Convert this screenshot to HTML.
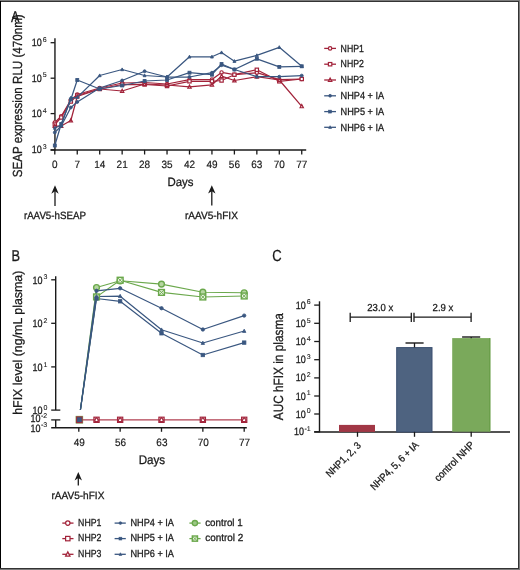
<!DOCTYPE html>
<html><head><meta charset="utf-8"><style>
html,body{margin:0;padding:0;background:#fff;}
#f{position:relative;width:520px;height:570px;overflow:hidden;background:#fff;will-change:transform;}
svg{position:absolute;left:0;top:0;}
text{font-family:"Liberation Sans", sans-serif;fill:#1a1a1a;text-rendering:geometricPrecision;stroke:#1a1a1a;stroke-width:0.28px;}
</style></head><body><div id="f">
<svg width="520" height="570" viewBox="0 0 520 570">
<rect x="0" y="0" width="520" height="570" fill="#fff"/>
<text x="11.00" y="22.30" font-size="15.5" textLength="8.40" lengthAdjust="spacingAndGlyphs" >A</text>
<text x="21.60" y="177.30" font-size="13.2" textLength="163.00" lengthAdjust="spacingAndGlyphs" transform="rotate(-90 21.60 177.30)" >SEAP expression RLU (470nm)</text>
<line x1="54.95" y1="38.30" x2="54.95" y2="150.40" stroke="#1a1a1a" stroke-width="1.4" />
<line x1="50.60" y1="149.90" x2="306.20" y2="149.90" stroke="#1a1a1a" stroke-width="1.5" />
<line x1="50.60" y1="42.70" x2="54.80" y2="42.70" stroke="#1a1a1a" stroke-width="1.3" />
<text x="31.81" y="46.20" font-size="10.6" textLength="10.0" lengthAdjust="spacingAndGlyphs">10</text>
<text x="42.81" y="41.90" font-size="7.0" style="stroke-width:0.1px">6</text>
<line x1="50.60" y1="78.20" x2="54.80" y2="78.20" stroke="#1a1a1a" stroke-width="1.3" />
<text x="31.81" y="81.70" font-size="10.6" textLength="10.0" lengthAdjust="spacingAndGlyphs">10</text>
<text x="42.81" y="77.40" font-size="7.0" style="stroke-width:0.1px">5</text>
<line x1="50.60" y1="113.60" x2="54.80" y2="113.60" stroke="#1a1a1a" stroke-width="1.3" />
<text x="31.81" y="117.10" font-size="10.6" textLength="10.0" lengthAdjust="spacingAndGlyphs">10</text>
<text x="42.81" y="112.80" font-size="7.0" style="stroke-width:0.1px">4</text>
<line x1="50.60" y1="149.90" x2="54.80" y2="149.90" stroke="#1a1a1a" stroke-width="1.3" />
<text x="31.81" y="153.40" font-size="10.6" textLength="10.0" lengthAdjust="spacingAndGlyphs">10</text>
<text x="42.81" y="149.10" font-size="7.0" style="stroke-width:0.1px">3</text>
<line x1="54.80" y1="149.90" x2="54.80" y2="154.50" stroke="#1a1a1a" stroke-width="1.3" />
<text x="54.80" y="167.90" font-size="10.6" text-anchor="middle" textLength="5.56" lengthAdjust="spacingAndGlyphs" style="stroke-width:0.18px">0</text>
<line x1="77.25" y1="149.90" x2="77.25" y2="154.50" stroke="#1a1a1a" stroke-width="1.3" />
<text x="77.25" y="167.90" font-size="10.6" text-anchor="middle" textLength="5.56" lengthAdjust="spacingAndGlyphs" style="stroke-width:0.18px">7</text>
<line x1="99.70" y1="149.90" x2="99.70" y2="154.50" stroke="#1a1a1a" stroke-width="1.3" />
<text x="99.70" y="167.90" font-size="10.6" text-anchor="middle" textLength="11.12" lengthAdjust="spacingAndGlyphs" style="stroke-width:0.18px">14</text>
<line x1="122.15" y1="149.90" x2="122.15" y2="154.50" stroke="#1a1a1a" stroke-width="1.3" />
<text x="122.15" y="167.90" font-size="10.6" text-anchor="middle" textLength="11.12" lengthAdjust="spacingAndGlyphs" style="stroke-width:0.18px">21</text>
<line x1="144.60" y1="149.90" x2="144.60" y2="154.50" stroke="#1a1a1a" stroke-width="1.3" />
<text x="144.60" y="167.90" font-size="10.6" text-anchor="middle" textLength="11.12" lengthAdjust="spacingAndGlyphs" style="stroke-width:0.18px">28</text>
<line x1="167.04" y1="149.90" x2="167.04" y2="154.50" stroke="#1a1a1a" stroke-width="1.3" />
<text x="167.04" y="167.90" font-size="10.6" text-anchor="middle" textLength="11.12" lengthAdjust="spacingAndGlyphs" style="stroke-width:0.18px">35</text>
<line x1="189.49" y1="149.90" x2="189.49" y2="154.50" stroke="#1a1a1a" stroke-width="1.3" />
<text x="189.49" y="167.90" font-size="10.6" text-anchor="middle" textLength="11.12" lengthAdjust="spacingAndGlyphs" style="stroke-width:0.18px">42</text>
<line x1="211.94" y1="149.90" x2="211.94" y2="154.50" stroke="#1a1a1a" stroke-width="1.3" />
<text x="211.94" y="167.90" font-size="10.6" text-anchor="middle" textLength="11.12" lengthAdjust="spacingAndGlyphs" style="stroke-width:0.18px">49</text>
<line x1="234.39" y1="149.90" x2="234.39" y2="154.50" stroke="#1a1a1a" stroke-width="1.3" />
<text x="234.39" y="167.90" font-size="10.6" text-anchor="middle" textLength="11.12" lengthAdjust="spacingAndGlyphs" style="stroke-width:0.18px">56</text>
<line x1="256.84" y1="149.90" x2="256.84" y2="154.50" stroke="#1a1a1a" stroke-width="1.3" />
<text x="256.84" y="167.90" font-size="10.6" text-anchor="middle" textLength="11.12" lengthAdjust="spacingAndGlyphs" style="stroke-width:0.18px">63</text>
<line x1="279.29" y1="149.90" x2="279.29" y2="154.50" stroke="#1a1a1a" stroke-width="1.3" />
<text x="279.29" y="167.90" font-size="10.6" text-anchor="middle" textLength="11.12" lengthAdjust="spacingAndGlyphs" style="stroke-width:0.18px">70</text>
<line x1="301.74" y1="149.90" x2="301.74" y2="154.50" stroke="#1a1a1a" stroke-width="1.3" />
<text x="301.74" y="167.90" font-size="10.6" text-anchor="middle" textLength="11.12" lengthAdjust="spacingAndGlyphs" style="stroke-width:0.18px">77</text>
<text x="180.40" y="186.30" font-size="12.0" text-anchor="middle" textLength="26.00" lengthAdjust="spacingAndGlyphs" >Days</text>
<line x1="55.00" y1="189.30" x2="55.00" y2="206.00" stroke="#1a1a1a" stroke-width="1.3" />
<polygon points="55.00,185.30 58.70,193.70 55.00,191.30 51.30,193.70" fill="#1a1a1a"/>
<text x="54.90" y="219.00" font-size="10.5" text-anchor="middle" textLength="62.00" lengthAdjust="spacingAndGlyphs" >rAAV5-hSEAP</text>
<line x1="211.80" y1="189.20" x2="211.80" y2="205.40" stroke="#1a1a1a" stroke-width="1.3" />
<polygon points="211.80,185.20 215.50,193.60 211.80,191.20 208.10,193.60" fill="#1a1a1a"/>
<text x="211.40" y="219.00" font-size="10.5" text-anchor="middle" textLength="53.00" lengthAdjust="spacingAndGlyphs" >rAAV5-hFIX</text>
<polyline points="54.80,122.50 61.21,116.30 70.83,100.00 77.25,94.50 99.70,88.00 122.15,83.00 144.60,82.50 167.04,84.00 189.49,79.60 211.94,79.60 221.56,72.40 234.39,74.70 256.84,72.70 279.29,79.60 301.74,79.00" fill="none" stroke="#a2233a" stroke-width="1.25" stroke-linejoin="round"/>
<circle cx="54.80" cy="122.50" r="1.65" fill="#fff" stroke="#a2233a" stroke-width="1.2"/>
<circle cx="61.21" cy="116.30" r="1.65" fill="#fff" stroke="#a2233a" stroke-width="1.2"/>
<circle cx="70.83" cy="100.00" r="1.65" fill="#fff" stroke="#a2233a" stroke-width="1.2"/>
<circle cx="77.25" cy="94.50" r="1.65" fill="#fff" stroke="#a2233a" stroke-width="1.2"/>
<circle cx="99.70" cy="88.00" r="1.65" fill="#fff" stroke="#a2233a" stroke-width="1.2"/>
<circle cx="122.15" cy="83.00" r="1.65" fill="#fff" stroke="#a2233a" stroke-width="1.2"/>
<circle cx="144.60" cy="82.50" r="1.65" fill="#fff" stroke="#a2233a" stroke-width="1.2"/>
<circle cx="167.04" cy="84.00" r="1.65" fill="#fff" stroke="#a2233a" stroke-width="1.2"/>
<circle cx="189.49" cy="79.60" r="1.65" fill="#fff" stroke="#a2233a" stroke-width="1.2"/>
<circle cx="211.94" cy="79.60" r="1.65" fill="#fff" stroke="#a2233a" stroke-width="1.2"/>
<circle cx="221.56" cy="72.40" r="1.65" fill="#fff" stroke="#a2233a" stroke-width="1.2"/>
<circle cx="234.39" cy="74.70" r="1.65" fill="#fff" stroke="#a2233a" stroke-width="1.2"/>
<circle cx="256.84" cy="72.70" r="1.65" fill="#fff" stroke="#a2233a" stroke-width="1.2"/>
<circle cx="279.29" cy="79.60" r="1.65" fill="#fff" stroke="#a2233a" stroke-width="1.2"/>
<circle cx="301.74" cy="79.00" r="1.65" fill="#fff" stroke="#a2233a" stroke-width="1.2"/>
<polyline points="54.80,124.50 61.21,117.50 70.83,101.50 77.25,95.50 99.70,89.00 122.15,84.50 144.60,84.50 167.04,86.00 189.49,81.30 211.94,81.30 221.56,80.50 234.39,74.70 256.84,69.80 279.29,81.30 301.74,79.00" fill="none" stroke="#a2233a" stroke-width="1.25" stroke-linejoin="round"/>
<rect x="53.15" y="122.85" width="3.30" height="3.30" fill="#fff" stroke="#a2233a" stroke-width="1.2"/>
<rect x="59.56" y="115.85" width="3.30" height="3.30" fill="#fff" stroke="#a2233a" stroke-width="1.2"/>
<rect x="69.18" y="99.85" width="3.30" height="3.30" fill="#fff" stroke="#a2233a" stroke-width="1.2"/>
<rect x="75.60" y="93.85" width="3.30" height="3.30" fill="#fff" stroke="#a2233a" stroke-width="1.2"/>
<rect x="98.05" y="87.35" width="3.30" height="3.30" fill="#fff" stroke="#a2233a" stroke-width="1.2"/>
<rect x="120.50" y="82.85" width="3.30" height="3.30" fill="#fff" stroke="#a2233a" stroke-width="1.2"/>
<rect x="142.95" y="82.85" width="3.30" height="3.30" fill="#fff" stroke="#a2233a" stroke-width="1.2"/>
<rect x="165.39" y="84.35" width="3.30" height="3.30" fill="#fff" stroke="#a2233a" stroke-width="1.2"/>
<rect x="187.84" y="79.65" width="3.30" height="3.30" fill="#fff" stroke="#a2233a" stroke-width="1.2"/>
<rect x="210.29" y="79.65" width="3.30" height="3.30" fill="#fff" stroke="#a2233a" stroke-width="1.2"/>
<rect x="219.91" y="78.85" width="3.30" height="3.30" fill="#fff" stroke="#a2233a" stroke-width="1.2"/>
<rect x="232.74" y="73.05" width="3.30" height="3.30" fill="#fff" stroke="#a2233a" stroke-width="1.2"/>
<rect x="255.19" y="68.15" width="3.30" height="3.30" fill="#fff" stroke="#a2233a" stroke-width="1.2"/>
<rect x="277.64" y="79.65" width="3.30" height="3.30" fill="#fff" stroke="#a2233a" stroke-width="1.2"/>
<rect x="300.09" y="77.35" width="3.30" height="3.30" fill="#fff" stroke="#a2233a" stroke-width="1.2"/>
<polyline points="54.80,126.00 61.21,126.00 70.83,120.50 77.25,96.50 99.70,89.00 122.15,91.00 144.60,84.00 167.04,85.00 189.49,86.80 211.94,84.80 221.56,76.20 234.39,80.50 256.84,76.70 279.29,80.00 301.74,106.40" fill="none" stroke="#a2233a" stroke-width="1.25" stroke-linejoin="round"/>
<polygon points="54.80,124.19 56.45,127.36 53.15,127.36" fill="#fff" stroke="#a2233a" stroke-width="1.2"/>
<polygon points="61.21,124.19 62.86,127.36 59.56,127.36" fill="#fff" stroke="#a2233a" stroke-width="1.2"/>
<polygon points="70.83,118.69 72.48,121.86 69.18,121.86" fill="#fff" stroke="#a2233a" stroke-width="1.2"/>
<polygon points="77.25,94.69 78.90,97.86 75.60,97.86" fill="#fff" stroke="#a2233a" stroke-width="1.2"/>
<polygon points="99.70,87.19 101.35,90.36 98.05,90.36" fill="#fff" stroke="#a2233a" stroke-width="1.2"/>
<polygon points="122.15,89.19 123.80,92.36 120.50,92.36" fill="#fff" stroke="#a2233a" stroke-width="1.2"/>
<polygon points="144.60,82.19 146.25,85.36 142.95,85.36" fill="#fff" stroke="#a2233a" stroke-width="1.2"/>
<polygon points="167.04,83.19 168.69,86.36 165.39,86.36" fill="#fff" stroke="#a2233a" stroke-width="1.2"/>
<polygon points="189.49,84.98 191.14,88.16 187.84,88.16" fill="#fff" stroke="#a2233a" stroke-width="1.2"/>
<polygon points="211.94,82.98 213.59,86.16 210.29,86.16" fill="#fff" stroke="#a2233a" stroke-width="1.2"/>
<polygon points="221.56,74.39 223.21,77.56 219.91,77.56" fill="#fff" stroke="#a2233a" stroke-width="1.2"/>
<polygon points="234.39,78.69 236.04,81.86 232.74,81.86" fill="#fff" stroke="#a2233a" stroke-width="1.2"/>
<polygon points="256.84,74.89 258.49,78.06 255.19,78.06" fill="#fff" stroke="#a2233a" stroke-width="1.2"/>
<polygon points="279.29,78.19 280.94,81.36 277.64,81.36" fill="#fff" stroke="#a2233a" stroke-width="1.2"/>
<polygon points="301.74,104.59 303.39,107.76 300.09,107.76" fill="#fff" stroke="#a2233a" stroke-width="1.2"/>
<polyline points="54.80,132.50 61.21,126.00 70.83,107.50 77.25,102.00 99.70,88.00 122.15,80.50 144.60,71.25 167.04,77.00 189.49,77.00 211.94,72.70 221.56,65.20 234.39,69.50 256.84,76.70 279.29,76.70 301.74,75.60" fill="none" stroke="#3a5780" stroke-width="1.25" stroke-linejoin="round"/>
<circle cx="54.80" cy="132.50" r="1.45" fill="#3a5780" stroke="#3a5780" stroke-width="0.9"/>
<circle cx="61.21" cy="126.00" r="1.45" fill="#3a5780" stroke="#3a5780" stroke-width="0.9"/>
<circle cx="70.83" cy="107.50" r="1.45" fill="#3a5780" stroke="#3a5780" stroke-width="0.9"/>
<circle cx="77.25" cy="102.00" r="1.45" fill="#3a5780" stroke="#3a5780" stroke-width="0.9"/>
<circle cx="99.70" cy="88.00" r="1.45" fill="#3a5780" stroke="#3a5780" stroke-width="0.9"/>
<circle cx="122.15" cy="80.50" r="1.45" fill="#3a5780" stroke="#3a5780" stroke-width="0.9"/>
<circle cx="144.60" cy="71.25" r="1.45" fill="#3a5780" stroke="#3a5780" stroke-width="0.9"/>
<circle cx="167.04" cy="77.00" r="1.45" fill="#3a5780" stroke="#3a5780" stroke-width="0.9"/>
<circle cx="189.49" cy="77.00" r="1.45" fill="#3a5780" stroke="#3a5780" stroke-width="0.9"/>
<circle cx="211.94" cy="72.70" r="1.45" fill="#3a5780" stroke="#3a5780" stroke-width="0.9"/>
<circle cx="221.56" cy="65.20" r="1.45" fill="#3a5780" stroke="#3a5780" stroke-width="0.9"/>
<circle cx="234.39" cy="69.50" r="1.45" fill="#3a5780" stroke="#3a5780" stroke-width="0.9"/>
<circle cx="256.84" cy="76.70" r="1.45" fill="#3a5780" stroke="#3a5780" stroke-width="0.9"/>
<circle cx="279.29" cy="76.70" r="1.45" fill="#3a5780" stroke="#3a5780" stroke-width="0.9"/>
<circle cx="301.74" cy="75.60" r="1.45" fill="#3a5780" stroke="#3a5780" stroke-width="0.9"/>
<polyline points="54.80,145.50 61.21,124.00 70.83,99.50 77.25,80.00 99.70,89.00 122.15,85.50 144.60,81.00 167.04,80.00 189.49,72.70 211.94,74.70 221.56,64.00 234.39,69.50 256.84,58.80 279.29,66.90 301.74,66.30" fill="none" stroke="#3a5780" stroke-width="1.25" stroke-linejoin="round"/>
<rect x="53.35" y="144.05" width="2.90" height="2.90" fill="#3a5780" stroke="#3a5780" stroke-width="0.9"/>
<rect x="59.76" y="122.55" width="2.90" height="2.90" fill="#3a5780" stroke="#3a5780" stroke-width="0.9"/>
<rect x="69.38" y="98.05" width="2.90" height="2.90" fill="#3a5780" stroke="#3a5780" stroke-width="0.9"/>
<rect x="75.80" y="78.55" width="2.90" height="2.90" fill="#3a5780" stroke="#3a5780" stroke-width="0.9"/>
<rect x="98.25" y="87.55" width="2.90" height="2.90" fill="#3a5780" stroke="#3a5780" stroke-width="0.9"/>
<rect x="120.70" y="84.05" width="2.90" height="2.90" fill="#3a5780" stroke="#3a5780" stroke-width="0.9"/>
<rect x="143.15" y="79.55" width="2.90" height="2.90" fill="#3a5780" stroke="#3a5780" stroke-width="0.9"/>
<rect x="165.59" y="78.55" width="2.90" height="2.90" fill="#3a5780" stroke="#3a5780" stroke-width="0.9"/>
<rect x="188.04" y="71.25" width="2.90" height="2.90" fill="#3a5780" stroke="#3a5780" stroke-width="0.9"/>
<rect x="210.49" y="73.25" width="2.90" height="2.90" fill="#3a5780" stroke="#3a5780" stroke-width="0.9"/>
<rect x="220.11" y="62.55" width="2.90" height="2.90" fill="#3a5780" stroke="#3a5780" stroke-width="0.9"/>
<rect x="232.94" y="68.05" width="2.90" height="2.90" fill="#3a5780" stroke="#3a5780" stroke-width="0.9"/>
<rect x="255.39" y="57.35" width="2.90" height="2.90" fill="#3a5780" stroke="#3a5780" stroke-width="0.9"/>
<rect x="277.84" y="65.45" width="2.90" height="2.90" fill="#3a5780" stroke="#3a5780" stroke-width="0.9"/>
<rect x="300.29" y="64.85" width="2.90" height="2.90" fill="#3a5780" stroke="#3a5780" stroke-width="0.9"/>
<polyline points="54.80,128.00 61.21,125.00 70.83,97.90 77.25,97.40 99.70,75.50 122.15,69.50 144.60,75.50 167.04,77.00 189.49,56.80 211.94,56.80 221.56,52.50 234.39,61.20 256.84,55.40 279.29,47.30 301.74,66.30" fill="none" stroke="#3a5780" stroke-width="1.25" stroke-linejoin="round"/>
<polygon points="54.80,126.41 56.25,129.20 53.35,129.20" fill="#3a5780" stroke="#3a5780" stroke-width="0.9"/>
<polygon points="61.21,123.41 62.66,126.20 59.76,126.20" fill="#3a5780" stroke="#3a5780" stroke-width="0.9"/>
<polygon points="70.83,96.31 72.28,99.10 69.38,99.10" fill="#3a5780" stroke="#3a5780" stroke-width="0.9"/>
<polygon points="77.25,95.81 78.70,98.60 75.80,98.60" fill="#3a5780" stroke="#3a5780" stroke-width="0.9"/>
<polygon points="99.70,73.91 101.15,76.70 98.25,76.70" fill="#3a5780" stroke="#3a5780" stroke-width="0.9"/>
<polygon points="122.15,67.91 123.60,70.70 120.70,70.70" fill="#3a5780" stroke="#3a5780" stroke-width="0.9"/>
<polygon points="144.60,73.91 146.05,76.70 143.15,76.70" fill="#3a5780" stroke="#3a5780" stroke-width="0.9"/>
<polygon points="167.04,75.41 168.49,78.20 165.59,78.20" fill="#3a5780" stroke="#3a5780" stroke-width="0.9"/>
<polygon points="189.49,55.20 190.94,58.00 188.04,58.00" fill="#3a5780" stroke="#3a5780" stroke-width="0.9"/>
<polygon points="211.94,55.20 213.39,58.00 210.49,58.00" fill="#3a5780" stroke="#3a5780" stroke-width="0.9"/>
<polygon points="221.56,50.91 223.01,53.70 220.11,53.70" fill="#3a5780" stroke="#3a5780" stroke-width="0.9"/>
<polygon points="234.39,59.61 235.84,62.40 232.94,62.40" fill="#3a5780" stroke="#3a5780" stroke-width="0.9"/>
<polygon points="256.84,53.80 258.29,56.60 255.39,56.60" fill="#3a5780" stroke="#3a5780" stroke-width="0.9"/>
<polygon points="279.29,45.70 280.74,48.50 277.84,48.50" fill="#3a5780" stroke="#3a5780" stroke-width="0.9"/>
<polygon points="301.74,64.70 303.19,67.50 300.29,67.50" fill="#3a5780" stroke="#3a5780" stroke-width="0.9"/>
<line x1="324.20" y1="48.40" x2="336.00" y2="48.40" stroke="#a2233a" stroke-width="1.3" />
<circle cx="330.10" cy="48.40" r="1.70" fill="#fff" stroke="#a2233a" stroke-width="1.2"/>
<text x="340.60" y="51.60" font-size="10.3" textLength="23.30" lengthAdjust="spacingAndGlyphs" >NHP1</text>
<line x1="324.20" y1="64.20" x2="336.00" y2="64.20" stroke="#a2233a" stroke-width="1.3" />
<rect x="328.40" y="62.50" width="3.40" height="3.40" fill="#fff" stroke="#a2233a" stroke-width="1.2"/>
<text x="340.60" y="67.40" font-size="10.3" textLength="23.30" lengthAdjust="spacingAndGlyphs" >NHP2</text>
<line x1="324.20" y1="80.00" x2="336.00" y2="80.00" stroke="#a2233a" stroke-width="1.3" />
<polygon points="330.10,78.13 331.80,81.40 328.40,81.40" fill="#fff" stroke="#a2233a" stroke-width="1.2"/>
<text x="340.60" y="83.20" font-size="10.3" textLength="23.30" lengthAdjust="spacingAndGlyphs" >NHP3</text>
<line x1="324.20" y1="95.80" x2="336.00" y2="95.80" stroke="#3a5780" stroke-width="1.3" />
<circle cx="330.10" cy="95.80" r="1.45" fill="#3a5780" stroke="#3a5780" stroke-width="0.6"/>
<text x="340.60" y="99.00" font-size="10.3" textLength="43.60" lengthAdjust="spacingAndGlyphs" >NHP4 + IA</text>
<line x1="324.20" y1="111.60" x2="336.00" y2="111.60" stroke="#3a5780" stroke-width="1.3" />
<rect x="328.65" y="110.15" width="2.90" height="2.90" fill="#3a5780" stroke="#3a5780" stroke-width="0.6"/>
<text x="340.60" y="114.80" font-size="10.3" textLength="43.60" lengthAdjust="spacingAndGlyphs" >NHP5 + IA</text>
<line x1="324.20" y1="127.30" x2="336.00" y2="127.30" stroke="#3a5780" stroke-width="1.3" />
<polygon points="330.10,125.70 331.55,128.50 328.65,128.50" fill="#3a5780" stroke="#3a5780" stroke-width="0.6"/>
<text x="340.60" y="130.50" font-size="10.3" textLength="43.60" lengthAdjust="spacingAndGlyphs" >NHP6 + IA</text>
<text x="11.50" y="260.80" font-size="15.7" textLength="8.54" lengthAdjust="spacingAndGlyphs" >B</text>
<text x="21.80" y="414.80" font-size="12.8" textLength="144.20" lengthAdjust="spacingAndGlyphs" transform="rotate(-90 21.80 414.80)" >hFIX level (ng/mL plasma)</text>
<line x1="55.70" y1="276.20" x2="55.70" y2="410.10" stroke="#1a1a1a" stroke-width="1.4" />
<line x1="51.20" y1="410.10" x2="60.30" y2="410.10" stroke="#1a1a1a" stroke-width="1.3" />
<line x1="51.20" y1="419.90" x2="60.30" y2="419.90" stroke="#1a1a1a" stroke-width="1.3" />
<line x1="55.70" y1="419.90" x2="55.70" y2="428.00" stroke="#1a1a1a" stroke-width="1.4" />
<line x1="51.20" y1="427.75" x2="246.80" y2="427.75" stroke="#1a1a1a" stroke-width="1.5" />
<line x1="51.20" y1="279.80" x2="55.70" y2="279.80" stroke="#1a1a1a" stroke-width="1.3" />
<text x="32.41" y="283.70" font-size="10.6" textLength="10.0" lengthAdjust="spacingAndGlyphs">10</text>
<text x="43.41" y="279.40" font-size="7.0" style="stroke-width:0.1px">3</text>
<line x1="51.20" y1="323.30" x2="55.70" y2="323.30" stroke="#1a1a1a" stroke-width="1.3" />
<text x="32.41" y="327.20" font-size="10.6" textLength="10.0" lengthAdjust="spacingAndGlyphs">10</text>
<text x="43.41" y="322.90" font-size="7.0" style="stroke-width:0.1px">2</text>
<line x1="51.20" y1="366.90" x2="55.70" y2="366.90" stroke="#1a1a1a" stroke-width="1.3" />
<text x="32.41" y="370.80" font-size="10.6" textLength="10.0" lengthAdjust="spacingAndGlyphs">10</text>
<text x="43.41" y="366.50" font-size="7.0" style="stroke-width:0.1px">1</text>
<text x="32.41" y="413.80" font-size="10.6" textLength="10.0" lengthAdjust="spacingAndGlyphs">10</text>
<text x="43.41" y="409.50" font-size="7.0" style="stroke-width:0.1px">0</text>
<text x="30.51" y="422.00" font-size="10.6" textLength="10.0" lengthAdjust="spacingAndGlyphs">10</text>
<text x="40.91" y="417.70" font-size="7.0" style="stroke-width:0.1px">-2</text>
<text x="30.51" y="431.50" font-size="10.6" textLength="10.0" lengthAdjust="spacingAndGlyphs">10</text>
<text x="40.91" y="427.20" font-size="7.0" style="stroke-width:0.1px">-3</text>
<line x1="78.80" y1="427.75" x2="78.80" y2="431.80" stroke="#1a1a1a" stroke-width="1.3" />
<text x="79.20" y="445.80" font-size="10.6" text-anchor="middle" textLength="11.12" lengthAdjust="spacingAndGlyphs" style="stroke-width:0.18px">49</text>
<line x1="120.15" y1="427.75" x2="120.15" y2="431.80" stroke="#1a1a1a" stroke-width="1.3" />
<text x="120.55" y="445.80" font-size="10.6" text-anchor="middle" textLength="11.12" lengthAdjust="spacingAndGlyphs" style="stroke-width:0.18px">56</text>
<line x1="161.50" y1="427.75" x2="161.50" y2="431.80" stroke="#1a1a1a" stroke-width="1.3" />
<text x="161.90" y="445.80" font-size="10.6" text-anchor="middle" textLength="11.12" lengthAdjust="spacingAndGlyphs" style="stroke-width:0.18px">63</text>
<line x1="202.85" y1="427.75" x2="202.85" y2="431.80" stroke="#1a1a1a" stroke-width="1.3" />
<text x="203.25" y="445.80" font-size="10.6" text-anchor="middle" textLength="11.12" lengthAdjust="spacingAndGlyphs" style="stroke-width:0.18px">70</text>
<line x1="244.20" y1="427.75" x2="244.20" y2="431.80" stroke="#1a1a1a" stroke-width="1.3" />
<text x="244.60" y="445.80" font-size="10.6" text-anchor="middle" textLength="11.12" lengthAdjust="spacingAndGlyphs" style="stroke-width:0.18px">77</text>
<text x="151.90" y="464.20" font-size="12.5" text-anchor="middle" textLength="26.50" lengthAdjust="spacingAndGlyphs" >Days</text>
<line x1="78.30" y1="476.00" x2="78.30" y2="485.40" stroke="#1a1a1a" stroke-width="1.3" />
<polygon points="78.30,472.00 82.00,480.40 78.30,478.00 74.60,480.40" fill="#1a1a1a"/>
<text x="77.90" y="498.80" font-size="10.5" text-anchor="middle" textLength="53.00" lengthAdjust="spacingAndGlyphs" >rAAV5-hFIX</text>
<line x1="78.80" y1="419.90" x2="244.20" y2="419.90" stroke="#b03f50" stroke-width="1.35" />
<rect x="93.92" y="417.20" width="5.20" height="5.20" fill="#fff" stroke="#a2233a" stroke-width="1.2"/>
<circle cx="96.52" cy="419.9" r="1.9" fill="none" stroke="#a2233a" stroke-width="1.0"/>
<polygon points="96.52,417.50 98.72,421.50 94.32,421.50" fill="none" stroke="#a2233a" stroke-width="0.9"/>
<rect x="117.55" y="417.20" width="5.20" height="5.20" fill="#fff" stroke="#a2233a" stroke-width="1.2"/>
<circle cx="120.15" cy="419.9" r="1.9" fill="none" stroke="#a2233a" stroke-width="1.0"/>
<polygon points="120.15,417.50 122.35,421.50 117.95,421.50" fill="none" stroke="#a2233a" stroke-width="0.9"/>
<rect x="158.90" y="417.20" width="5.20" height="5.20" fill="#fff" stroke="#a2233a" stroke-width="1.2"/>
<circle cx="161.50" cy="419.9" r="1.9" fill="none" stroke="#a2233a" stroke-width="1.0"/>
<polygon points="161.50,417.50 163.70,421.50 159.30,421.50" fill="none" stroke="#a2233a" stroke-width="0.9"/>
<rect x="200.25" y="417.20" width="5.20" height="5.20" fill="#fff" stroke="#a2233a" stroke-width="1.2"/>
<circle cx="202.85" cy="419.9" r="1.9" fill="none" stroke="#a2233a" stroke-width="1.0"/>
<polygon points="202.85,417.50 205.05,421.50 200.65,421.50" fill="none" stroke="#a2233a" stroke-width="0.9"/>
<rect x="241.60" y="417.20" width="5.20" height="5.20" fill="#fff" stroke="#a2233a" stroke-width="1.2"/>
<circle cx="244.20" cy="419.9" r="1.9" fill="none" stroke="#a2233a" stroke-width="1.0"/>
<polygon points="244.20,417.50 246.40,421.50 242.00,421.50" fill="none" stroke="#a2233a" stroke-width="0.9"/>
<polyline points="80.40,410.00 96.52,287.50 120.15,280.80 161.50,284.10 202.85,292.20 244.20,292.80" fill="none" stroke="#6ba84c" stroke-width="1.1" stroke-linejoin="round"/>
<polyline points="80.40,410.00 96.52,296.90 120.15,280.20 161.50,292.40 202.85,297.00 244.20,296.00" fill="none" stroke="#6ba84c" stroke-width="1.1" stroke-linejoin="round"/>
<polyline points="80.40,410.00 96.52,290.80 120.15,288.30 161.50,308.20 202.85,329.50 244.20,315.60" fill="none" stroke="#3a5780" stroke-width="1.2" stroke-linejoin="round"/>
<polyline points="80.40,410.00 96.52,296.50 120.15,296.20 161.50,329.80 202.85,343.00 244.20,331.00" fill="none" stroke="#3a5780" stroke-width="1.2" stroke-linejoin="round"/>
<polyline points="80.40,410.00 96.52,298.50 120.15,301.30 161.50,333.30 202.85,355.00 244.20,342.60" fill="none" stroke="#3a5780" stroke-width="1.2" stroke-linejoin="round"/>
<circle cx="96.52" cy="287.50" r="2.90" fill="#b5d6a0" stroke="#6ba84c" stroke-width="1.4"/>
<circle cx="120.15" cy="280.80" r="2.90" fill="#b5d6a0" stroke="#6ba84c" stroke-width="1.4"/>
<circle cx="161.50" cy="284.10" r="2.90" fill="#b5d6a0" stroke="#6ba84c" stroke-width="1.4"/>
<circle cx="202.85" cy="292.20" r="2.90" fill="#b5d6a0" stroke="#6ba84c" stroke-width="1.4"/>
<circle cx="244.20" cy="292.80" r="2.90" fill="#b5d6a0" stroke="#6ba84c" stroke-width="1.4"/>
<rect x="93.62" y="294.00" width="5.80" height="5.80" fill="#e6f1de" stroke="#6ba84c" stroke-width="1.4"/>
<path d="M93.62,294.00L99.42,299.80M99.42,294.00L93.62,299.80" stroke="#6ba84c" stroke-width="0.91"/>
<rect x="117.25" y="277.30" width="5.80" height="5.80" fill="#e6f1de" stroke="#6ba84c" stroke-width="1.4"/>
<path d="M117.25,277.30L123.05,283.10M123.05,277.30L117.25,283.10" stroke="#6ba84c" stroke-width="0.91"/>
<rect x="158.60" y="289.50" width="5.80" height="5.80" fill="#e6f1de" stroke="#6ba84c" stroke-width="1.4"/>
<path d="M158.60,289.50L164.40,295.30M164.40,289.50L158.60,295.30" stroke="#6ba84c" stroke-width="0.91"/>
<rect x="199.95" y="294.10" width="5.80" height="5.80" fill="#e6f1de" stroke="#6ba84c" stroke-width="1.4"/>
<path d="M199.95,294.10L205.75,299.90M205.75,294.10L199.95,299.90" stroke="#6ba84c" stroke-width="0.91"/>
<rect x="241.30" y="293.10" width="5.80" height="5.80" fill="#e6f1de" stroke="#6ba84c" stroke-width="1.4"/>
<path d="M241.30,293.10L247.10,298.90M247.10,293.10L241.30,298.90" stroke="#6ba84c" stroke-width="0.91"/>
<circle cx="96.52" cy="290.80" r="1.70" fill="#3a5780" stroke="#3a5780" stroke-width="0.8"/>
<circle cx="120.15" cy="288.30" r="1.70" fill="#3a5780" stroke="#3a5780" stroke-width="0.8"/>
<circle cx="161.50" cy="308.20" r="1.70" fill="#3a5780" stroke="#3a5780" stroke-width="0.8"/>
<circle cx="202.85" cy="329.50" r="1.70" fill="#3a5780" stroke="#3a5780" stroke-width="0.8"/>
<circle cx="244.20" cy="315.60" r="1.70" fill="#3a5780" stroke="#3a5780" stroke-width="0.8"/>
<polygon points="96.52,294.63 98.22,297.90 94.82,297.90" fill="#3a5780" stroke="#3a5780" stroke-width="0.8"/>
<polygon points="120.15,294.33 121.85,297.60 118.45,297.60" fill="#3a5780" stroke="#3a5780" stroke-width="0.8"/>
<polygon points="161.50,327.93 163.20,331.20 159.80,331.20" fill="#3a5780" stroke="#3a5780" stroke-width="0.8"/>
<polygon points="202.85,341.13 204.55,344.40 201.15,344.40" fill="#3a5780" stroke="#3a5780" stroke-width="0.8"/>
<polygon points="244.20,329.13 245.90,332.40 242.50,332.40" fill="#3a5780" stroke="#3a5780" stroke-width="0.8"/>
<rect x="94.82" y="296.80" width="3.40" height="3.40" fill="#3a5780" stroke="#3a5780" stroke-width="0.8"/>
<rect x="118.45" y="299.60" width="3.40" height="3.40" fill="#3a5780" stroke="#3a5780" stroke-width="0.8"/>
<rect x="159.80" y="331.60" width="3.40" height="3.40" fill="#3a5780" stroke="#3a5780" stroke-width="0.8"/>
<rect x="201.15" y="353.30" width="3.40" height="3.40" fill="#3a5780" stroke="#3a5780" stroke-width="0.8"/>
<rect x="242.50" y="340.90" width="3.40" height="3.40" fill="#3a5780" stroke="#3a5780" stroke-width="0.8"/>
<rect x="76.50" y="416.70" width="5.8" height="6.0" fill="#3a5780" stroke="#a2233a" stroke-width="1.2"/>
<rect x="75.90" y="416.10" width="7.0" height="7.2" fill="none" stroke="#6ba84c" stroke-width="0.45"/>
<line x1="62.30" y1="523.10" x2="73.50" y2="523.10" stroke="#a2233a" stroke-width="1.3" />
<circle cx="67.80" cy="523.10" r="2.20" fill="#fff" stroke="#a2233a" stroke-width="1.2"/>
<text x="78.10" y="525.90" font-size="10.3" textLength="23.30" lengthAdjust="spacingAndGlyphs" >NHP1</text>
<line x1="62.30" y1="538.60" x2="73.50" y2="538.60" stroke="#a2233a" stroke-width="1.3" />
<rect x="65.60" y="536.40" width="4.40" height="4.40" fill="#fff" stroke="#a2233a" stroke-width="1.2"/>
<text x="78.10" y="541.40" font-size="10.3" textLength="23.30" lengthAdjust="spacingAndGlyphs" >NHP2</text>
<line x1="62.30" y1="554.30" x2="73.50" y2="554.30" stroke="#a2233a" stroke-width="1.3" />
<polygon points="67.80,551.88 70.00,556.12 65.60,556.12" fill="#fff" stroke="#a2233a" stroke-width="1.2"/>
<text x="78.10" y="557.10" font-size="10.3" textLength="23.30" lengthAdjust="spacingAndGlyphs" >NHP3</text>
<line x1="114.60" y1="523.10" x2="125.80" y2="523.10" stroke="#3a5780" stroke-width="1.3" />
<circle cx="120.40" cy="523.10" r="1.40" fill="#3a5780" stroke="#3a5780" stroke-width="0.6"/>
<text x="130.40" y="525.90" font-size="10.3" textLength="43.60" lengthAdjust="spacingAndGlyphs" >NHP4 + IA</text>
<line x1="114.60" y1="538.60" x2="125.80" y2="538.60" stroke="#3a5780" stroke-width="1.3" />
<rect x="119.00" y="537.20" width="2.80" height="2.80" fill="#3a5780" stroke="#3a5780" stroke-width="0.6"/>
<text x="130.40" y="541.40" font-size="10.3" textLength="43.60" lengthAdjust="spacingAndGlyphs" >NHP5 + IA</text>
<line x1="114.60" y1="554.30" x2="125.80" y2="554.30" stroke="#3a5780" stroke-width="1.3" />
<polygon points="120.40,552.76 121.80,555.45 119.00,555.45" fill="#3a5780" stroke="#3a5780" stroke-width="0.6"/>
<text x="130.40" y="557.10" font-size="10.3" textLength="43.60" lengthAdjust="spacingAndGlyphs" >NHP6 + IA</text>
<line x1="189.40" y1="523.10" x2="200.60" y2="523.10" stroke="#6ba84c" stroke-width="1.3" />
<circle cx="194.90" cy="523.10" r="2.60" fill="#9cc886" stroke="#6ba84c" stroke-width="1.4"/>
<text x="205.20" y="525.90" font-size="10.3" textLength="37.50" lengthAdjust="spacingAndGlyphs" >control 1</text>
<line x1="189.40" y1="538.60" x2="200.60" y2="538.60" stroke="#6ba84c" stroke-width="1.3" />
<rect x="192.30" y="536.00" width="5.20" height="5.20" fill="#e6f1de" stroke="#6ba84c" stroke-width="1.4"/>
<path d="M192.30,536.00L197.50,541.20M197.50,536.00L192.30,541.20" stroke="#6ba84c" stroke-width="0.91"/>
<text x="205.20" y="541.40" font-size="10.3" textLength="38.20" lengthAdjust="spacingAndGlyphs" >control 2</text>
<text x="272.30" y="261.00" font-size="16.0" textLength="9.39" lengthAdjust="spacingAndGlyphs" >C</text>
<text x="282.80" y="420.20" font-size="13.4" textLength="107.00" lengthAdjust="spacingAndGlyphs" transform="rotate(-90 282.80 420.20)" >AUC hFIX in plasma</text>
<line x1="319.50" y1="301.30" x2="319.50" y2="432.30" stroke="#1a1a1a" stroke-width="1.4" />
<line x1="314.20" y1="432.00" x2="510.00" y2="432.00" stroke="#1a1a1a" stroke-width="1.6" />
<line x1="314.20" y1="305.10" x2="319.50" y2="305.10" stroke="#1a1a1a" stroke-width="1.3" />
<text x="295.71" y="308.60" font-size="10.6" textLength="10.0" lengthAdjust="spacingAndGlyphs">10</text>
<text x="306.71" y="304.30" font-size="7.0" style="stroke-width:0.1px">6</text>
<line x1="314.20" y1="323.30" x2="319.50" y2="323.30" stroke="#1a1a1a" stroke-width="1.3" />
<text x="295.71" y="326.80" font-size="10.6" textLength="10.0" lengthAdjust="spacingAndGlyphs">10</text>
<text x="306.71" y="322.50" font-size="7.0" style="stroke-width:0.1px">5</text>
<line x1="314.20" y1="341.50" x2="319.50" y2="341.50" stroke="#1a1a1a" stroke-width="1.3" />
<text x="295.71" y="345.00" font-size="10.6" textLength="10.0" lengthAdjust="spacingAndGlyphs">10</text>
<text x="306.71" y="340.70" font-size="7.0" style="stroke-width:0.1px">4</text>
<line x1="314.20" y1="359.70" x2="319.50" y2="359.70" stroke="#1a1a1a" stroke-width="1.3" />
<text x="295.71" y="363.20" font-size="10.6" textLength="10.0" lengthAdjust="spacingAndGlyphs">10</text>
<text x="306.71" y="358.90" font-size="7.0" style="stroke-width:0.1px">3</text>
<line x1="314.20" y1="377.90" x2="319.50" y2="377.90" stroke="#1a1a1a" stroke-width="1.3" />
<text x="295.71" y="381.40" font-size="10.6" textLength="10.0" lengthAdjust="spacingAndGlyphs">10</text>
<text x="306.71" y="377.10" font-size="7.0" style="stroke-width:0.1px">2</text>
<line x1="314.20" y1="396.00" x2="319.50" y2="396.00" stroke="#1a1a1a" stroke-width="1.3" />
<text x="295.71" y="399.50" font-size="10.6" textLength="10.0" lengthAdjust="spacingAndGlyphs">10</text>
<text x="306.71" y="395.20" font-size="7.0" style="stroke-width:0.1px">1</text>
<line x1="314.20" y1="414.00" x2="319.50" y2="414.00" stroke="#1a1a1a" stroke-width="1.3" />
<text x="295.71" y="417.50" font-size="10.6" textLength="10.0" lengthAdjust="spacingAndGlyphs">10</text>
<text x="306.71" y="413.20" font-size="7.0" style="stroke-width:0.1px">0</text>
<line x1="314.20" y1="431.80" x2="319.50" y2="431.80" stroke="#1a1a1a" stroke-width="1.3" />
<text x="294.11" y="435.30" font-size="10.6" textLength="10.0" lengthAdjust="spacingAndGlyphs">10</text>
<text x="304.51" y="431.00" font-size="7.0" style="stroke-width:0.1px">-1</text>
<rect x="339.0" y="424.9" width="36.0" height="7.0" fill="#a13745"/>
<rect x="396.7" y="347.6" width="35.3" height="84.4" fill="#4e6380" stroke="#3a4f70" stroke-width="1.0"/>
<rect x="452.2" y="338.1" width="38.4" height="93.6" fill="#7aa95b"/>
<rect x="489.0" y="338.1" width="0.9" height="93.6" fill="#6a9f4a"/>
<line x1="414.50" y1="343.00" x2="414.50" y2="347.40" stroke="#1a1a1a" stroke-width="1.3" />
<line x1="405.50" y1="343.00" x2="423.60" y2="343.00" stroke="#1a1a1a" stroke-width="1.4" />
<line x1="471.20" y1="337.00" x2="471.20" y2="338.20" stroke="#1a1a1a" stroke-width="1.3" />
<line x1="462.10" y1="337.00" x2="480.20" y2="337.00" stroke="#1a1a1a" stroke-width="1.4" />
<line x1="357.50" y1="431.80" x2="357.50" y2="436.80" stroke="#1a1a1a" stroke-width="1.3" />
<line x1="414.50" y1="431.80" x2="414.50" y2="436.80" stroke="#1a1a1a" stroke-width="1.3" />
<line x1="471.20" y1="431.80" x2="471.20" y2="436.80" stroke="#1a1a1a" stroke-width="1.3" />
<line x1="350.20" y1="317.10" x2="411.30" y2="317.10" stroke="#1a1a1a" stroke-width="1.3" />
<line x1="350.20" y1="312.80" x2="350.20" y2="321.90" stroke="#1a1a1a" stroke-width="1.3" />
<line x1="411.30" y1="312.80" x2="411.30" y2="321.90" stroke="#1a1a1a" stroke-width="1.3" />
<line x1="414.00" y1="317.10" x2="471.10" y2="317.10" stroke="#1a1a1a" stroke-width="1.3" />
<line x1="414.00" y1="312.80" x2="414.00" y2="321.90" stroke="#1a1a1a" stroke-width="1.3" />
<line x1="471.10" y1="312.80" x2="471.10" y2="321.90" stroke="#1a1a1a" stroke-width="1.3" />
<text x="380.30" y="311.30" font-size="10.2" text-anchor="middle" textLength="26.00" lengthAdjust="spacingAndGlyphs" >23.0 x</text>
<text x="443.00" y="311.30" font-size="10.2" text-anchor="middle" textLength="20.80" lengthAdjust="spacingAndGlyphs" >2.9 x</text>
<text x="361.50" y="446.20" font-size="10.3" text-anchor="end" textLength="44.60" lengthAdjust="spacingAndGlyphs" transform="rotate(-45 361.50 446.20)" >NHP1, 2, 3</text>
<text x="419.30" y="445.80" font-size="10.3" text-anchor="end" textLength="63.50" lengthAdjust="spacingAndGlyphs" transform="rotate(-45 419.30 445.80)" >NHP4, 5, 6 + IA</text>
<text x="475.00" y="445.50" font-size="10.3" text-anchor="end" textLength="51.70" lengthAdjust="spacingAndGlyphs" transform="rotate(-45 475.00 445.50)" >control NHP</text>
<rect x="0" y="0" width="520" height="1" fill="#7b7b7b"/>
<rect x="0" y="1" width="519" height="1" fill="#333"/>
<rect x="0" y="1" width="1" height="569" fill="#000"/>
<rect x="518" y="1" width="1" height="568" fill="#333"/>
<rect x="519" y="0" width="1" height="570" fill="#7b7b7b"/>
<rect x="0" y="568" width="519" height="1" fill="#333"/>
<rect x="0" y="569" width="520" height="1" fill="#7b7b7b"/>
</svg></div></body></html>
